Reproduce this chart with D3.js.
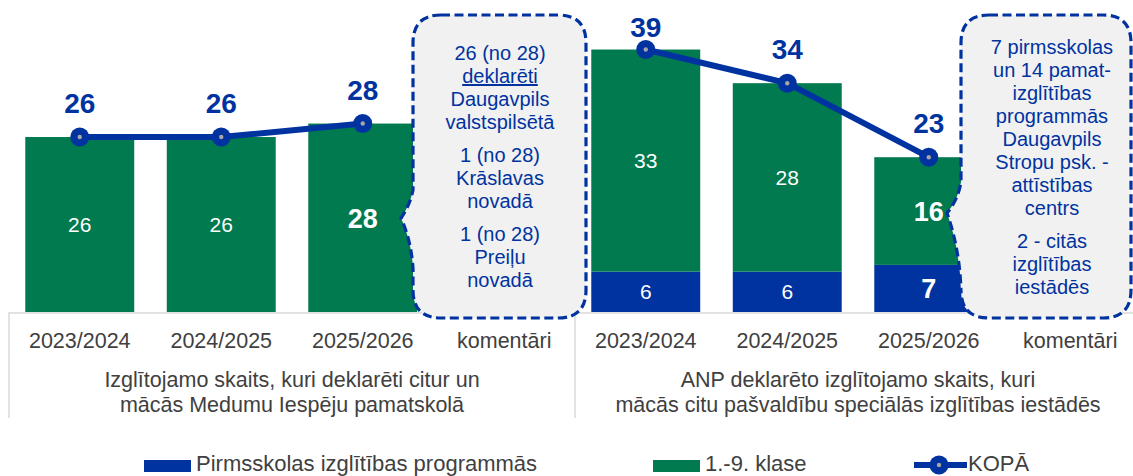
<!DOCTYPE html>
<html>
<head>
<meta charset="utf-8">
<script src="https://cdn.jsdelivr.net/npm/d3@7"></script>
<style>
  html, body { margin: 0; padding: 0; background: #ffffff; }
  svg { display: block; font-family: "Liberation Sans", Arial, sans-serif; }
</style>
</head>
<body>
<svg id="chart" width="1133" height="476"></svg>
<script>
// ---------- data ----------
const categories = ["2023/2024", "2024/2025", "2025/2026", "komentāri"];
const panelIds = ["A", "B"];
const preschoolA = [0, 0, 0];
const gradesA = [26, 26, 28];
const totalA = [26, 26, 28];
const preschoolB = [6, 6, 7];
const gradesB = [33, 28, 16];
const totalB = [39, 34, 23];
const panelTitleA = ["Izglītojamo skaits, kuri deklarēti citur un", "mācās Medumu Iespēju pamatskolā"];
const panelTitleB = ["ANP deklarēto izglītojamo skaits, kuri", "mācās citu pašvaldību speciālās izglītības iestādēs"];
const notesA = [["26 (no 28)", "deklarēti", "Daugavpils", "valstspilsētā"], ["1 (no 28)", "Krāslavas", "novadā"], ["1 (no 28)", "Preiļu", "novadā"]];
const notesB = [["7 pirmsskolas", "un 14 pamat-", "izglītības", "programmās", "Daugavpils", "Stropu psk. -", "attīstības", "centrs"], ["2 - citās", "izglītības", "iestādēs"]];
const legendLabels = ["Pirmsskolas izglītības programmās", "1.-9. klase", "KOPĀ"];

// ---------- styles ----------
const BLUE = "#0033a0";
const GREEN = "#007a4e";
const GRID = "#d9d9d9";
const TEXT = "#404040";

const svg = d3.select("#chart");
const keys = [];
panelIds.forEach(p => categories.forEach(c => keys.push(p + "|" + c)));

const x = d3.scaleBand().domain(keys).range([9, 1141]).paddingInner(0.23).paddingOuter(0.115);
const y = d3.scaleLinear().domain([0, 40]).range([312, 42.8]);
const baseY = y(0);

// ---------- axis ----------
const axis = d3.axisBottom(x).tickSize(0).tickSizeOuter(0).tickPadding(20)
  .tickFormat(k => k.split("|")[1]);
const gAxis = svg.append("g").attr("transform", `translate(0,${baseY + 0.5})`).call(axis);
gAxis.select(".domain").attr("stroke", GRID).attr("stroke-width", 1.5);
gAxis.selectAll("text").attr("fill", TEXT).style("font-size", "21.5px")
  .style("font-family", "'Liberation Sans', Arial, sans-serif");

// panel separators
const sepXs = [x.range()[0], x(keys[4]) - x.step() * x.paddingInner() / 2];
svg.selectAll("line.sep").data(sepXs).enter().append("line")
  .attr("x1", d => d).attr("x2", d => d).attr("y1", baseY).attr("y2", 418)
  .attr("stroke", GRID).attr("stroke-width", 1.5);

// panel titles
const panelCenters = [
  (sepXs[0] + sepXs[1]) / 2,
  (sepXs[1] + x.range()[1]) / 2
];
[panelTitleA, panelTitleB].forEach((lines, i) => {
  svg.append("g").selectAll("text").data(lines).enter().append("text")
    .attr("x", panelCenters[i]).attr("y", (d, j) => 387 + j * 24.5)
    .attr("text-anchor", "middle").attr("fill", TEXT).style("font-size", "21.5px")
    .text(d => d);
});

// ---------- bars ----------
const panels = [
  { id: "A", pre: preschoolA, gr: gradesA, tot: totalA },
  { id: "B", pre: preschoolB, gr: gradesB, tot: totalB }
];

panels.forEach(p => {
  const rows = categories.slice(0, 3).map((c, i) => ({
    key: p.id + "|" + c, idx: i, pre: p.pre[i], gr: p.gr[i], tot: p.tot[i]
  }));
  const g = svg.append("g");
  g.selectAll("rect.pre").data(rows.filter(r => r.pre > 0)).enter().append("rect")
    .attr("x", d => x(d.key)).attr("width", x.bandwidth())
    .attr("y", d => y(d.pre)).attr("height", d => y(0) - y(d.pre)).attr("fill", BLUE);
  g.selectAll("rect.gr").data(rows).enter().append("rect")
    .attr("x", d => x(d.key)).attr("width", x.bandwidth())
    .attr("y", d => y(d.pre + d.gr)).attr("height", d => y(d.pre) - y(d.pre + d.gr)).attr("fill", GREEN);
  const bold = d => d.idx === 2;
  g.selectAll("text.pre").data(rows.filter(r => r.pre > 0)).enter().append("text")
    .attr("x", d => x(d.key) + x.bandwidth() / 2)
    .attr("y", d => (y(0) + y(d.pre)) / 2)
    .attr("dy", "0.36em").attr("text-anchor", "middle").attr("fill", "#fff")
    .style("font-size", d => bold(d) ? "27px" : "21px").style("font-weight", d => bold(d) ? "bold" : "normal")
    .text(d => d.pre);
  g.selectAll("text.gr").data(rows).enter().append("text")
    .attr("x", d => x(d.key) + x.bandwidth() / 2)
    .attr("y", d => (y(d.pre) + y(d.pre + d.gr)) / 2)
    .attr("dy", "0.36em").attr("text-anchor", "middle").attr("fill", "#fff")
    .style("font-size", d => bold(d) ? "27px" : "21px").style("font-weight", d => bold(d) ? "bold" : "normal")
    .text(d => d.gr);
  const line = d3.line().x(d => x(d.key) + x.bandwidth() / 2).y(d => y(d.tot));
  g.append("path").datum(rows).attr("d", line).attr("fill", "none")
    .attr("stroke", BLUE).attr("stroke-width", 6).attr("stroke-linejoin", "round");
  g.selectAll("circle.m").data(rows).enter().append("circle")
    .attr("cx", d => x(d.key) + x.bandwidth() / 2).attr("cy", d => y(d.tot))
    .attr("r", 9.5).attr("fill", BLUE);
  g.selectAll("circle.c").data(rows).enter().append("circle")
    .attr("cx", d => x(d.key) + x.bandwidth() / 2).attr("cy", d => y(d.tot))
    .attr("r", 2.2).attr("fill", "#a6a6a6");
  g.selectAll("text.tot").data(rows).enter().append("text")
    .attr("x", d => x(d.key) + x.bandwidth() / 2)
    .attr("y", d => Math.max(y(d.tot) - 24, 37))
    .attr("text-anchor", "middle").attr("fill", BLUE)
    .style("font-size", "28px").style("font-weight", "bold")
    .text(d => d.tot);
});

// ---------- callouts ----------
function calloutPath(x0, x1, y0, y1, r, w) {
  return `M${x0 + r},${y0} H${x1 - r} Q${x1},${y0} ${x1},${y0 + r} V${y1 - r} Q${x1},${y1} ${x1 - r},${y1}` +
    ` H${x0 + r} Q${x0},${y1} ${x0},${y1 - r} V${w.yEnd}` +
    ` Q${w.c2x},${w.c2y} ${w.tx},${w.ty} Q${w.c1x},${w.c1y} ${x0},${w.yStart}` +
    ` V${y0 + r} Q${x0},${y0} ${x0 + r},${y0} Z`;
}

const calloutA = { x0: 413, x1: 586, cx: 500, top: 53,
  w: { yStart: 190, c1x: 410, c1y: 205, tx: 401, ty: 218, c2x: 411, c2y: 240, yEnd: 268 } };
const calloutB = { x0: 961, x1: 1131, cx: 1052, top: 47,
  w: { yStart: 182, c1x: 958, c1y: 200, tx: 947, ty: 213, c2x: 960, c2y: 250, yEnd: 292 } };

[[calloutA, notesA], [calloutB, notesB]].forEach(([c, notes]) => {
  svg.append("path").attr("d", calloutPath(c.x0, c.x1, 15, 318, 28, c.w))
    .attr("fill", "#f1f1f1").attr("stroke", BLUE).attr("stroke-width", 3.2)
    .attr("stroke-dasharray", "9,4.5");
  let yy = c.top;
  const g = svg.append("g");
  notes.forEach((para, pi) => {
    if (pi > 0) yy += 10;
    para.forEach(t => {
      const te = g.append("text").attr("x", c.cx).attr("y", yy + 7)
        .attr("text-anchor", "middle").attr("fill", BLUE).style("font-size", "20px").text(t);
      if (t === "deklarēti") te.attr("text-decoration", "underline");
      yy += 23;
    });
  });
});

// ---------- legend ----------
const lg = svg.append("g");
lg.append("rect").attr("x", 144).attr("y", 460).attr("width", 47).attr("height", 12).attr("fill", BLUE);
lg.append("text").attr("x", 196).attr("y", 471).attr("fill", TEXT).style("font-size", "22px").text(legendLabels[0]);
lg.append("rect").attr("x", 653).attr("y", 460).attr("width", 47).attr("height", 12).attr("fill", GREEN);
lg.append("text").attr("x", 705).attr("y", 471).attr("fill", TEXT).style("font-size", "22px").text(legendLabels[1]);
lg.append("line").attr("x1", 914).attr("x2", 967).attr("y1", 465).attr("y2", 465)
  .attr("stroke", BLUE).attr("stroke-width", 6);
lg.append("circle").attr("cx", 939).attr("cy", 465).attr("r", 9.5).attr("fill", BLUE);
lg.append("circle").attr("cx", 939).attr("cy", 465).attr("r", 2.2).attr("fill", "#a6a6a6");
lg.append("text").attr("x", 968).attr("y", 471).attr("fill", TEXT).style("font-size", "22px").text(legendLabels[2]);
</script>
</body>
</html>
